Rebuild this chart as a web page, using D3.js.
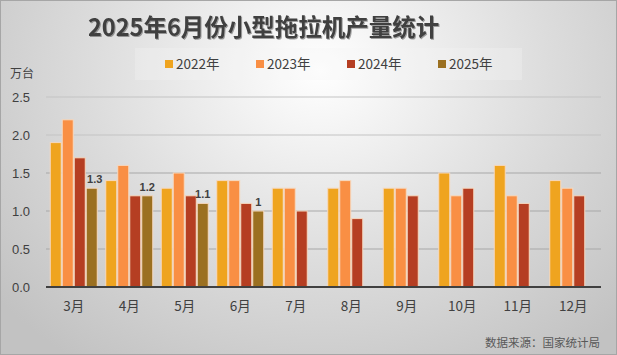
<!DOCTYPE html>
<html><head><meta charset="utf-8">
<script src="https://cdn.jsdelivr.net/npm/d3@7"></script>
<style>
html,body{margin:0;padding:0;background:#fff;}
svg{display:block;font-family:"Noto Sans CJK SC","Noto Sans",sans-serif;}
</style></head>
<body>
<svg id="chart" width="617" height="355"></svg>
<script>
const categories = ["3月","4月","5月","6月","7月","8月","9月","10月","11月","12月"];
const seriesNames = ["2022年","2023年","2024年","2025年"];
const v2022 = [1.9,1.4,1.3,1.4,1.3,1.3,1.3,1.5,1.6,1.4];
const v2023 = [2.2,1.6,1.5,1.4,1.3,1.4,1.3,1.2,1.2,1.3];
const v2024 = [1.7,1.2,1.2,1.1,1.0,0.9,1.2,1.3,1.1,1.2];
const v2025 = [1.3,1.2,1.1,1.0,null,null,null,null,null,null];
const labels2025 = ["1.3","1.2","1.1","1",null,null,null,null,null,null];
const yTicks = [0,0.5,1.0,1.5,2.0,2.5];
const colors = ["#EFA41F","#F98F44","#B53E22","#9B7021"];

const svg = d3.select("#chart");
const W = 617, H = 355;
const defs = svg.append("defs");
const rg = defs.append("radialGradient").attr("id","bg")
  .attr("gradientUnits","userSpaceOnUse").attr("cx",320).attr("cy",70).attr("r",420)
  .attr("gradientTransform","translate(320,70) scale(1,0.85) translate(-320,-70)");
rg.append("stop").attr("offset","0%").attr("stop-color","#ffffff");
rg.append("stop").attr("offset","55%").attr("stop-color","#dcdcdc");
rg.append("stop").attr("offset","100%").attr("stop-color","#c2c2c2");
const sh = defs.append("filter").attr("id","tshadow").attr("x","-5%").attr("y","-20%").attr("width","110%").attr("height","140%");
sh.append("feDropShadow").attr("dx",1).attr("dy",1).attr("stdDeviation",0.6).attr("flood-color","#000").attr("flood-opacity",0.35);

svg.append("rect").attr("x",0).attr("y",0).attr("width",W).attr("height",H).attr("fill","url(#bg)");
svg.append("rect").attr("x",0.5).attr("y",0.5).attr("width",W-1).attr("height",H-1)
  .attr("fill","none").attr("stroke","#a6a6a6");

const m = {l:46, r:601, t:97, b:287};
const x0 = d3.scaleBand().domain(categories).range([m.l, m.r]).paddingInner(0.135).paddingOuter(0.0675);
const x1 = d3.scaleBand().domain(seriesNames).range([0, x0.bandwidth()]);
const y = d3.scaleLinear().domain([0,2.5]).range([m.b, m.t]);

// gridlines
svg.append("g").selectAll("line").data(yTicks.filter(d=>d>0)).join("line")
  .attr("x1",m.l).attr("x2",m.r).attr("y1",d=>y(d)).attr("y2",d=>y(d))
  .attr("stroke",(d)=> d>=2 ? "#c4c4c4" : "#a8a8a8").attr("stroke-width",1.2);

// y axis labels
const yAxis = d3.axisLeft(y).tickValues(yTicks).tickFormat(d3.format(".1f")).tickSize(0).tickPadding(0);
const ya = svg.append("g").attr("transform",`translate(30,0)`).call(yAxis);
ya.select(".domain").remove();
ya.selectAll("text").attr("font-size",13).attr("fill","#404040")
  .attr("font-family","'Liberation Sans','DejaVu Sans',sans-serif");

svg.append("text").attr("x",10).attr("y",78).text("万台").attr("font-size",12).attr("fill","#404040");

// bars
const seriesVals = [v2022,v2023,v2024,v2025];
const flat = [];
categories.forEach((c,i)=>{
  seriesNames.forEach((s,j)=>{
    const v = seriesVals[j][i];
    if (v!=null) flat.push({c,s,j,v,label: j===3 ? labels2025[i] : null});
  });
});
svg.append("g").selectAll("rect").data(flat).join("rect")
  .attr("x",d=>x0(d.c)+x1(d.s)+0.5)
  .attr("y",d=>y(d.v))
  .attr("width",x1.bandwidth()-1)
  .attr("height",d=>y(0)-y(d.v))
  .attr("fill",d=>colors[d.j])
  .attr("stroke","#f6d9c0").attr("stroke-width",1);

// data labels
svg.append("g").selectAll("text").data(flat.filter(d=>d.label)).join("text")
  .attr("x",(d,i)=>x0(d.c)+x1(d.s)+x1.bandwidth()/2 + (i===0?3:0))
  .attr("y",d=>y(d.v)-5)
  .attr("text-anchor","middle").attr("font-size",11).attr("font-weight","bold")
  .attr("fill","#404040").attr("font-family","'Liberation Sans','DejaVu Sans',sans-serif")
  .text(d=>d.label);

// x axis
svg.append("line").attr("x1",m.l).attr("x2",m.r).attr("y1",y(0)).attr("y2",y(0))
  .attr("stroke","#404040").attr("stroke-width",2);
const xAxis = d3.axisBottom(x0).tickSize(0).tickPadding(14);
const xa = svg.append("g").attr("transform",`translate(0,${y(0)})`).call(xAxis);
xa.select(".domain").remove();
xa.selectAll("text").attr("font-size",13.5).attr("fill","#404040")
  .attr("font-family","'Noto Sans CJK SC',sans-serif");

// title
svg.append("text").attr("x",88).attr("y",36).text("2025年6月份小型拖拉机产量统计")
  .attr("font-size",23.5).attr("font-weight","bold").attr("fill","#404040")
  .attr("filter","url(#tshadow)");

// legend
svg.append("rect").attr("x",135).attr("y",48).attr("width",387).attr("height",32)
  .attr("fill","#f4f4f4").attr("opacity",0.3);
const legX = [165,256,347,438];
const lg = svg.append("g").selectAll("g").data(seriesNames).join("g")
  .attr("transform",(d,i)=>`translate(${legX[i]},0)`);
lg.append("rect").attr("x",0).attr("y",60).attr("width",8).attr("height",8).attr("fill",(d,i)=>colors[i]);
lg.append("text").attr("x",11).attr("y",69).text(d=>d).attr("font-size",13.5).attr("fill","#404040");

// source
svg.append("text").attr("x",600).attr("y",347).attr("text-anchor","end")
  .text("数据来源：国家统计局").attr("font-size",11.5).attr("fill","#595959");
</script>
</body></html>
